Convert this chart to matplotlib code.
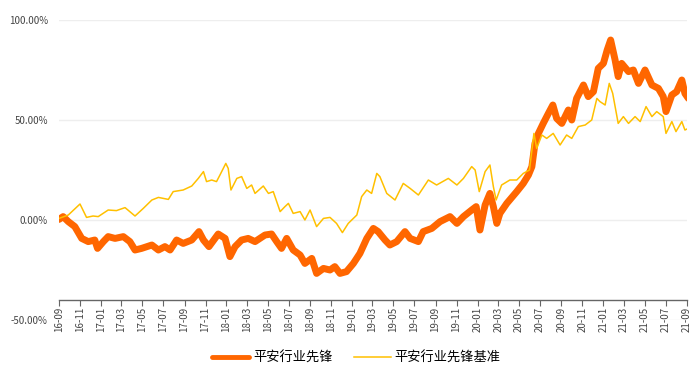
import pandas as pd
import numpy as np
import matplotlib
matplotlib.use('Agg')
import matplotlib.pyplot as plt
from matplotlib import lines

plt.rcParams['font.family'] = ['Noto Sans CJK SC', 'DejaVu Sans']

# fund cumulative return (%)
fund_dates = ['2016-09-01', '2016-09-13', '2016-09-28', '2016-10-17', '2016-11-06', '2016-11-25',
              '2016-12-14', '2016-12-22', '2017-01-08', '2017-01-22', '2017-02-11', '2017-03-07',
              '2017-03-26', '2017-04-10', '2017-04-29', '2017-05-29', '2017-06-17', '2017-07-06',
              '2017-07-21', '2017-08-09', '2017-08-28', '2017-09-22', '2017-10-13', '2017-10-26',
              '2017-11-11', '2017-12-08', '2017-12-28', '2018-01-11', '2018-01-26', '2018-02-14',
              '2018-03-05', '2018-03-25', '2018-04-23', '2018-05-12', '2018-05-27', '2018-06-10',
              '2018-06-25', '2018-07-14', '2018-08-03', '2018-08-17', '2018-09-06', '2018-09-20',
              '2018-10-10', '2018-10-29', '2018-11-12', '2018-11-27', '2018-12-16', '2019-01-05',
              '2019-01-24', '2019-02-13', '2019-03-04', '2019-03-18', '2019-04-07', '2019-04-21',
              '2019-05-11', '2019-06-04', '2019-06-19', '2019-07-13', '2019-07-27', '2019-08-21',
              '2019-09-14', '2019-10-13', '2019-11-02', '2019-11-21', '2019-12-15', '2019-12-28',
              '2020-01-08', '2020-01-23', '2020-02-06', '2020-02-16', '2020-02-26', '2020-03-06',
              '2020-03-26', '2020-04-24', '2020-05-13', '2020-05-28', '2020-06-07', '2020-06-16',
              '2020-06-26', '2020-07-10', '2020-07-25', '2020-08-07', '2020-08-18', '2020-09-02',
              '2020-09-21', '2020-10-01', '2020-10-15', '2020-11-04', '2020-11-18', '2020-12-03',
              '2020-12-17', '2021-01-01', '2021-01-12', '2021-01-22', '2021-02-04', '2021-02-13',
              '2021-02-23', '2021-03-15', '2021-03-29', '2021-04-13', '2021-05-02', '2021-05-22',
              '2021-06-10', '2021-06-24', '2021-07-02', '2021-07-19', '2021-08-02', '2021-08-17',
              '2021-08-26', '2021-09-05']
fund_values = [0.3, 1.7, -0.8, -3.3, -9.2, -10.8,
               -10.0, -14.2, -10.8, -8.3, -9.2, -8.3,
               -10.8, -15.0, -14.2, -12.5, -15.0, -13.3,
               -15.0, -10.0, -11.7, -10.0, -5.8, -10.0,
               -13.3, -7.0, -9.2, -18.3, -13.3, -10.0,
               -9.2, -10.8, -7.5, -7.0, -10.8, -14.2,
               -9.2, -15.0, -17.5, -21.7, -19.2, -26.7,
               -24.2, -25.0, -23.3, -26.7, -25.8, -21.7,
               -16.7, -9.2, -4.2, -5.8, -10.0, -12.5,
               -10.8, -5.8, -9.2, -10.8, -5.8, -4.2,
               -0.8, 1.7, -1.7, 1.7, 5.0, 6.7,
               -5.0, 7.5, 13.3, 6.7, -1.7, 3.3,
               8.3, 14.2, 18.3, 22.5, 26.7, 38.3,
               43.3, 48.3, 53.3, 57.5, 50.8, 48.3,
               55.0, 50.0, 60.8, 67.5, 61.7, 64.2,
               75.8, 78.3, 85.0, 90.0, 80.0, 71.7,
               78.3, 74.2, 75.0, 68.3, 75.0, 67.5,
               65.8, 61.7, 54.2, 62.5, 64.2, 70.0,
               63.3, 60.8]

# benchmark cumulative return (%)
bench_dates = ['2016-09-01', '2016-09-28', '2016-11-01', '2016-11-20', '2016-12-09', '2016-12-24',
               '2017-01-22', '2017-02-15', '2017-03-12', '2017-04-10', '2017-05-04', '2017-05-29',
               '2017-06-17', '2017-07-16', '2017-07-30', '2017-08-28', '2017-09-22', '2017-10-11',
               '2017-10-26', '2017-11-04', '2017-11-19', '2017-12-03', '2017-12-13', '2017-12-30',
               '2018-01-06', '2018-01-14', '2018-01-31', '2018-02-14', '2018-03-01', '2018-03-15',
               '2018-03-25', '2018-04-18', '2018-05-03', '2018-05-17', '2018-06-06', '2018-06-20',
               '2018-06-30', '2018-07-14', '2018-08-03', '2018-08-17', '2018-09-01', '2018-09-20',
               '2018-10-10', '2018-10-29', '2018-11-17', '2018-12-04', '2018-12-21', '2019-01-15',
               '2019-01-29', '2019-02-13', '2019-02-27', '2019-03-14', '2019-03-23', '2019-04-12',
               '2019-05-06', '2019-05-30', '2019-06-19', '2019-07-13', '2019-08-11', '2019-09-04',
               '2019-10-08', '2019-11-02', '2019-11-21', '2019-12-15', '2019-12-25', '2020-01-06',
               '2020-01-23', '2020-02-06', '2020-02-16', '2020-02-24', '2020-03-11', '2020-04-04',
               '2020-04-24', '2020-05-13', '2020-05-31', '2020-06-13', '2020-06-21', '2020-07-06',
               '2020-07-20', '2020-08-08', '2020-08-28', '2020-09-16', '2020-10-01', '2020-10-20',
               '2020-11-09', '2020-11-28', '2020-12-13', '2020-12-22', '2021-01-06', '2021-01-18',
               '2021-01-28', '2021-02-13', '2021-02-28', '2021-03-15', '2021-04-03', '2021-04-18',
               '2021-05-05', '2021-05-22', '2021-06-05', '2021-06-24', '2021-07-02', '2021-07-19',
               '2021-07-31', '2021-08-17', '2021-08-26', '2021-09-05']
bench_values = [0.8, 2.5, 8.0, 1.3, 2.0, 1.7,
                5.0, 4.7, 6.2, 2.0, 5.8, 10.0,
                11.3, 10.3, 14.2, 15.0, 17.0, 20.8,
                24.2, 19.2, 20.0, 19.2, 22.5, 28.3,
                25.8, 15.0, 20.8, 21.7, 15.8, 17.5,
                13.3, 17.0, 13.3, 14.2, 4.2, 6.7,
                8.3, 3.3, 4.2, 0.0, 5.0, -3.3,
                0.8, 1.3, -1.7, -6.3, -1.7, 2.5,
                11.7, 15.0, 13.3, 23.3, 21.7, 13.3,
                10.0, 18.3, 15.8, 12.5, 20.0, 17.5,
                20.8, 17.5, 20.8, 26.7, 25.0, 14.2,
                24.2, 27.5, 16.7, 10.0, 17.5, 20.0,
                20.0, 23.3, 25.0, 43.3, 35.8, 42.5,
                40.8, 43.3, 37.5, 42.5, 40.8, 46.7,
                47.5, 50.0, 60.8, 59.2, 57.5, 68.3,
                63.3, 48.3, 51.7, 48.3, 51.7, 49.2,
                56.7, 51.7, 54.2, 51.7, 43.3, 49.2,
                44.2, 49.2, 45.0, 45.8]

tick_labels = ['16-09', '16-11', '17-01', '17-03', '17-05', '17-07', '17-09', '17-11',
               '18-01', '18-03', '18-05', '18-07', '18-09', '18-11', '19-01', '19-03',
               '19-05', '19-07', '19-09', '19-11', '20-01', '20-03', '20-05', '20-07',
               '20-09', '20-11', '21-01', '21-03', '21-05', '21-07', '21-09']
y_ticks = [-50, 0, 50, 100]

fund_name = '平安行业先锋'
bench_name = '平安行业先锋基准'
c_fund = '#FF6600'
c_bench = '#FFC000'

df_fund = pd.DataFrame({'date': pd.to_datetime(fund_dates), 'v': fund_values})
df_bench = pd.DataFrame({'date': pd.to_datetime(bench_dates), 'v': bench_values})
tick_dates = pd.to_datetime(['20' + t + '-01' for t in tick_labels])

fig = plt.figure(figsize=(7, 3.78), dpi=100)
ax = fig.add_axes([0.0843, 0.1534, 0.8971, 0.7937])

ax.plot(df_fund['date'], df_fund['v'], color=c_fund, lw=5, solid_joinstyle='round',
        solid_capstyle='round', zorder=3)
ax.plot(df_bench['date'], df_bench['v'], color=c_bench, lw=1.1, zorder=4)

ax.set_xlim(tick_dates[0], tick_dates[-1])
ax.set_ylim(-50, 100)
ax.set_yticks(y_ticks)
ax.set_yticklabels(['%.2f%%' % y for y in y_ticks])
ax.set_xticks(tick_dates)
ax.set_xticklabels(tick_labels)

for y in y_ticks:
    ax.axhline(y, color='#eeeeee', lw=1, zorder=1)

for s in ['top', 'right', 'left']:
    ax.spines[s].set_visible(False)
ax.spines['bottom'].set_position(('data', -40))
ax.spines['bottom'].set_color('#666666')
ax.spines['bottom'].set_linewidth(1)
ax.tick_params(axis='x', length=4, color='#666666', labelsize=7, labelcolor='#444444',
               pad=1, labelrotation=90)
ax.tick_params(axis='y', length=0, labelsize=7, labelcolor='#444444', pad=8)
for lbl in ax.get_xticklabels():
    lbl.set_verticalalignment('top')
    lbl.set_horizontalalignment('center')

handles = [lines.Line2D([0, 1], [0, 1], color=c_fund, lw=3.5, solid_capstyle='round'),
           lines.Line2D([0, 1], [0, 1], color=c_bench, lw=1.1)]
fig.legend(handles=handles, labels=[fund_name, bench_name], loc='center',
           bbox_to_anchor=(0.509, 0.053), ncol=2, frameon=False, fontsize=9.5,
           handlelength=2.8, handletextpad=0.3, columnspacing=1.6)

fig.savefig('out.png', dpi=100)
